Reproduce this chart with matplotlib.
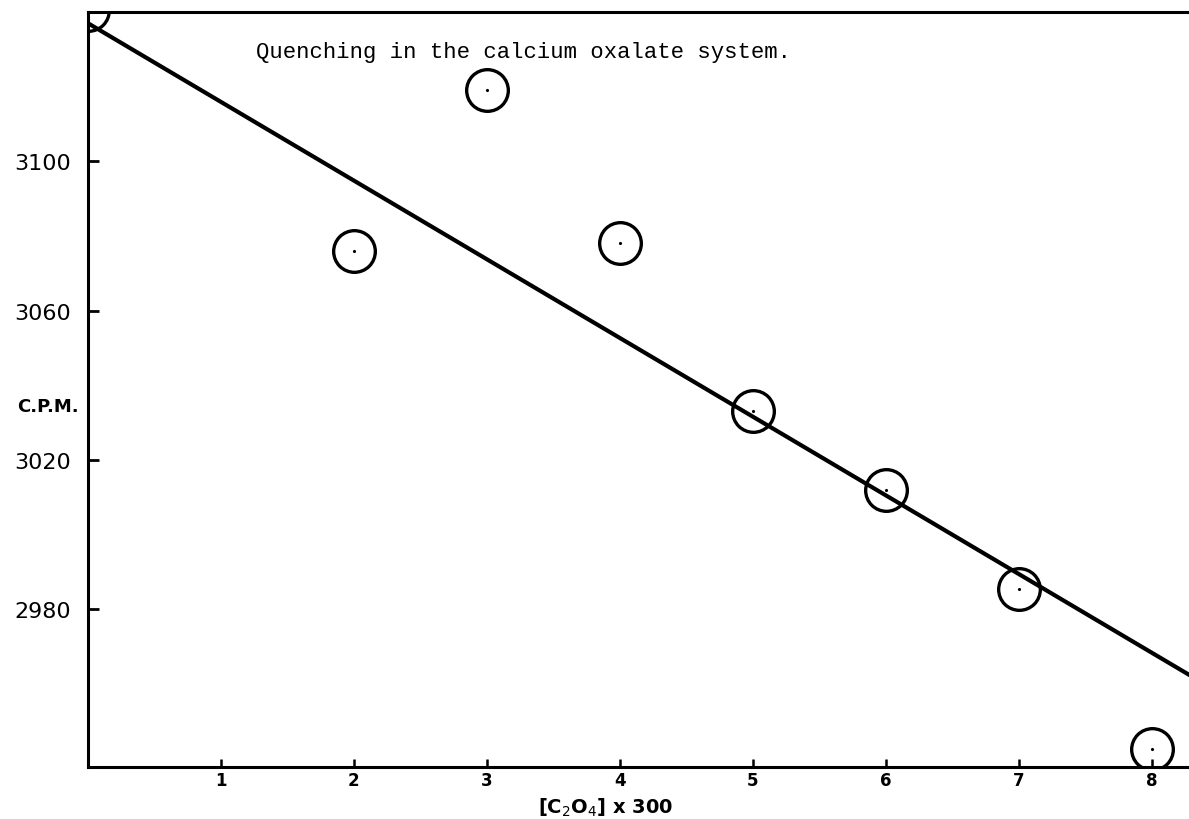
import numpy as np
import matplotlib.pyplot as plt

# Measured points (x = [C2O4] x 300, y = counts per minute)
conc = [0, 2, 3, 4, 5, 6, 7, 8]
cpm = [3140.5, 3076, 3119, 3078, 3033, 3012, 2985.5, 2942.5]

# Hand-drawn fit line (end points)
fit_x = [0, 8.3]
fit_y = [3137, 2962]

x_ticks = [1, 2, 3, 4, 5, 6, 7, 8]
y_ticks = [2980, 3020, 3060, 3100]

fig = plt.figure(figsize=(11.89, 8.2), dpi=100)
ax = fig.add_axes([0.074, 0.0634, 0.926, 0.9207])

ax.plot(fit_x, fit_y, color='black', lw=3, solid_capstyle='butt')
ax.plot(conc, cpm, ls='none', marker='o', ms=30, mfc='none', mec='black', mew=2.4)
ax.plot(conc, cpm, ls='none', marker='.', ms=2.5, color='black')

ax.set_xlim(0, 8.28)
ax.set_ylim(2937.7, 3140)

for s in ['left', 'bottom', 'top']:
    ax.spines[s].set_linewidth(2.2)
ax.spines['right'].set_visible(False)

ax.set_xticks(x_ticks)
ax.set_xticklabels([str(t) for t in x_ticks], fontsize=12, fontweight='bold')
ax.set_yticks(y_ticks)
ax.set_yticklabels([str(t) for t in y_ticks], fontsize=16)
ax.tick_params(axis='x', direction='in', length=6, width=1.8, pad=3)
ax.tick_params(axis='y', direction='in', length=8, width=2, pad=12)

ax.set_ylabel('C.P.M.', rotation=0, fontsize=13, fontweight='bold', ha='right', va='center')
ax.yaxis.set_label_coords(-0.008, 0.478)
ax.set_xlabel(r'[C$_2$O$_4$] x 300', fontsize=14, fontweight='bold', va='center')
ax.xaxis.set_label_coords(0.47, -0.053)

ax.text(1.26, 3129.5, 'Quenching in the calcium oxalate system.',
        family='Liberation Mono', fontsize=16, va='center', ha='left')

plt.savefig('out.png', dpi=100)
